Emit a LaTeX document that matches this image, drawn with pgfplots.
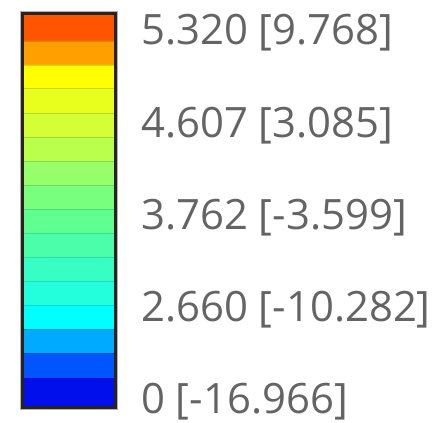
\documentclass[border=0pt]{standalone}
\usepackage{pgfplots}
\pgfplotsset{compat=1.18}
\usepackage{fontspec}
\setmainfont{Open Sans}
\definecolor{c1}{RGB}{255,85,0}
\definecolor{c2}{RGB}{255,160,0}
\definecolor{c3}{RGB}{255,255,0}
\definecolor{c4}{RGB}{232,255,30}
\definecolor{c5}{RGB}{212,255,55}
\definecolor{c6}{RGB}{185,255,75}
\definecolor{c7}{RGB}{150,255,105}
\definecolor{c8}{RGB}{120,255,125}
\definecolor{c9}{RGB}{95,255,145}
\definecolor{c10}{RGB}{75,255,170}
\definecolor{c11}{RGB}{55,255,195}
\definecolor{c12}{RGB}{35,255,220}
\definecolor{c13}{RGB}{0,255,255}
\definecolor{c14}{RGB}{0,170,255}
\definecolor{c15}{RGB}{0,85,255}
\definecolor{c16}{RGB}{0,15,235}
\definecolor{txt}{RGB}{100,100,100}
\definecolor{barframe}{RGB}{40,35,30}
\newcommand{\band}[3]{\addplot[fill=#3, draw=#3!85!black, line width=0.6bp] coordinates {(23,#1) (115,#1) (115,#2) (23,#2) (23,#1)};}
\begin{document}
\begin{tikzpicture}
\begin{axis}[width=442bp,height=423bp,scale only axis,
  xmin=0,xmax=442,ymin=0,ymax=423,y dir=reverse,
  axis lines=none,clip=false]
\band{14}{41}{c1}
\band{41}{65}{c2}
\band{65}{88}{c3}
\band{88}{113}{c4}
\band{113}{137}{c5}
\band{137}{161}{c6}
\band{161}{185}{c7}
\band{185}{209}{c8}
\band{209}{233}{c9}
\band{233}{257}{c10}
\band{257}{281}{c11}
\band{281}{305}{c12}
\band{305}{329}{c13}
\band{329}{353}{c14}
\band{353}{378}{c15}
\band{378}{407}{c16}
\draw[black!30, line width=1bp] (axis cs:20.5,11.5) rectangle (axis cs:117.5,409.5);
\draw[barframe, line width=3bp] (axis cs:22.5,13.5) rectangle (axis cs:115.5,407.5);
\begin{scope}[every node/.style={anchor=base west, inner sep=0pt, text=txt, font=\fontsize{42}{48}\selectfont}]
\node at (axis cs:141,45) {5.320 [9.768]};
\node at (axis cs:141,137) {4.607 [3.085]};
\node at (axis cs:141,229) {3.762 [-3.599]};
\node at (axis cs:141,321) {2.660 [-10.282]};
\node at (axis cs:141,413) {0 [-16.966]};
\end{scope}
\end{axis}
\pgfresetboundingbox
\useasboundingbox (current axis.south west) rectangle (current axis.north east);
\end{tikzpicture}
\end{document}
